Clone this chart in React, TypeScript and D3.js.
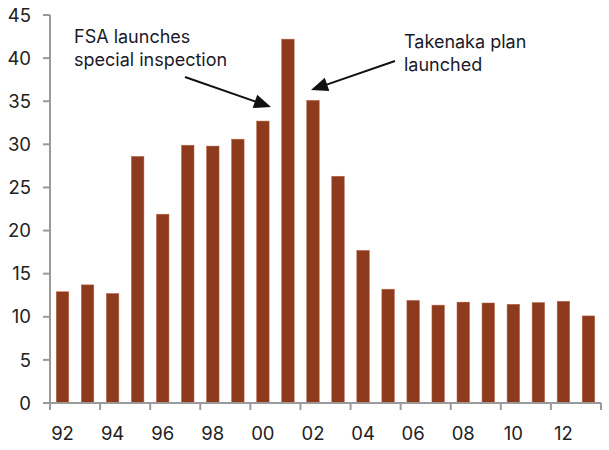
import React from "react";
import * as d3 from "d3";

const years = [
  "92","93","94","95","96","97","98","99","00","01","02",
  "03","04","05","06","07","08","09","10","11","12","13",
];
const values = [
  12.9, 13.7, 12.7, 28.6, 21.9, 29.9, 29.8, 30.6, 32.7, 42.2, 35.1,
  26.3, 17.7, 13.2, 11.9, 11.35, 11.7, 11.6, 11.45, 11.65, 11.8, 10.1,
];
const yTicks = [0, 5, 10, 15, 20, 25, 30, 35, 40, 45];
const xLabels = ["92","94","96","98","00","02","04","06","08","10","12"];

const W = 609, H = 450;
const FONT = "Inter, 'Open Sans', sans-serif";

export default function App() {
  const x = d3.scaleBand<string>().domain(years).range([50, 601]).paddingInner(0.5).paddingOuter(0.25);
  const y = d3.scaleLinear().domain([0, 45]).range([403, 15]);
  const step = x.step();
  const boundary = (yr: string) => (x(yr) as number) - step * 0.25;
  const xTickPos = xLabels.map(boundary).concat([601]);

  const arrow = (x1: number, y1: number, x2: number, y2: number) => {
    const a = Math.atan2(y2 - y1, x2 - x1);
    const L = 17, Wd = 7;
    const bx = x2 - L * Math.cos(a), by = y2 - L * Math.sin(a);
    const px = -Math.sin(a) * Wd, py = Math.cos(a) * Wd;
    return (
      <g>
        <line x1={x1} y1={y1} x2={bx + 2 * Math.cos(a)} y2={by + 2 * Math.sin(a)} stroke="#111" strokeWidth={2} />
        <polygon points={`${x2},${y2} ${bx + px},${by + py} ${bx - px},${by - py}`} fill="#111" />
      </g>
    );
  };

  return (
    <svg width={W} height={H} style={{ position: "absolute", left: 0, top: 0, background: "#fff" }} fontFamily={FONT}>
      {years.map((yr, i) => (
        <rect key={yr} x={x(yr)} y={y(values[i])} width={x.bandwidth()} height={y(0) - y(values[i])}
          fill="#8E3B1D" stroke="#B8684E" strokeWidth={0.5} />
      ))}
      <line x1={50} y1={y(45)} x2={50} y2={y(0)} stroke="#9a9a9a" strokeWidth={2} />
      <line x1={50} y1={y(0)} x2={601} y2={y(0)} stroke="#9a9a9a" strokeWidth={2} />
      {yTicks.map((t) => (
        <g key={t}>
          <line x1={43} x2={50} y1={y(t)} y2={y(t)} stroke="#9a9a9a" strokeWidth={2} />
          <text x={31} y={y(t)} dy="0.36em" textAnchor="end" fontSize={18.5} fill="#222">{t}</text>
        </g>
      ))}
      {xTickPos.map((p, i) => (
        <line key={i} x1={p} x2={p} y1={y(0)} y2={y(0) + 7} stroke="#9a9a9a" strokeWidth={2} />
      ))}
      {xLabels.map((l) => (
        <text key={l} x={(x(l) as number) + x.bandwidth() / 2} y={440} textAnchor="middle" fontSize={18.5} fill="#222">{l}</text>
      ))}
      <text x={74} y={43} fontSize={18} fill="#1a1a2a">FSA launches</text>
      <text x={74} y={66} fontSize={18} fill="#1a1a2a">special inspection</text>
      <text x={404} y={48} fontSize={18} fill="#1a1a2a">Takenaka plan</text>
      <text x={404} y={71} fontSize={18} fill="#1a1a2a">launched</text>
      {arrow(185, 77, 271, 107)}
      {arrow(395, 61, 311, 90)}
    </svg>
  );
}
